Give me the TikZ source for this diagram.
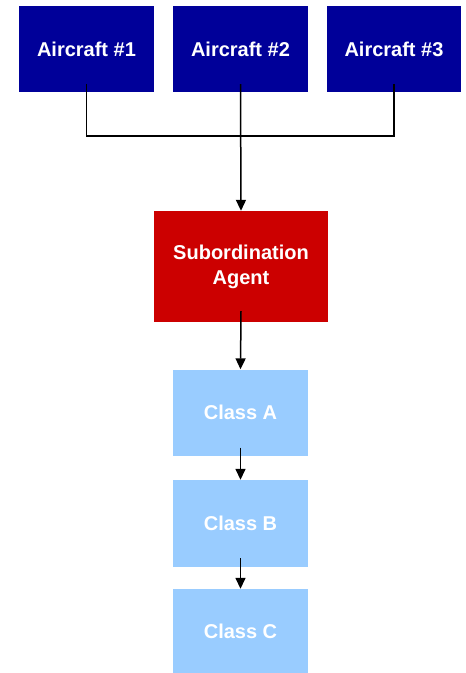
\documentclass[tikz,border=0pt]{standalone}
\usepackage{fontspec}
\setmainfont{Liberation Sans}
\usetikzlibrary{arrows.meta}
\definecolor{navyb}{HTML}{000099}
\definecolor{agentred}{HTML}{CC0000}
\definecolor{classblue}{HTML}{99CCFF}
\tikzset{
  box/.style={rectangle, inner sep=0pt, align=center, text=white,
    font=\fontsize{20}{25}\selectfont\bfseries},
  aircraft/.style={box, fill=navyb, minimum width=135pt, minimum height=86pt},
  agentbox/.style={box, fill=agentred, minimum width=174pt, minimum height=111pt},
  classbox/.style={box, fill=classblue, minimum width=135pt, minimum height=86pt},
  link/.style={line width=1.5pt, black},
  arr/.style={link, -{Triangle[length=11pt,width=10pt]}}
}
\begin{document}
\begin{tikzpicture}[x=1pt,y=1pt]
\useasboundingbox[fill=white] (0,0) rectangle (466,-673);
\node[aircraft] (a1) at (86.5,-49) {\raisebox{-2pt}{Aircraft \#1}};
\node[aircraft] (a2) at (240.5,-49) {\raisebox{-2pt}{Aircraft \#2}};
\node[aircraft, minimum width=134pt] (a3) at (394,-49) {\raisebox{-2pt}{Aircraft \#3}};
\node[agentbox] (ag) at (241,-266.5) {Subordination\\Agent};
\node[classbox] (ca) at (240.5,-412.5) {Class A};
\node[classbox, minimum height=87pt] (cb) at (240.5,-523.5) {Class B};
\node[classbox, minimum height=84pt] (cc) at (240.5,-631) {Class C};
\coordinate (j) at (240.5,-136);
\draw[link] ([yshift=8pt]a1.south) |- (j) -| ([yshift=8pt]a3.south);
\draw[arr] ([yshift=8pt]a2.south) -- (ag.north);
\draw[arr] ([yshift=11pt]ag.south) -- (ca.north);
\draw[arr] ([yshift=8pt]ca.south) -- (cb.north);
\draw[arr] ([yshift=9pt]cb.south) -- (cc.north);
\end{tikzpicture}
\end{document}
